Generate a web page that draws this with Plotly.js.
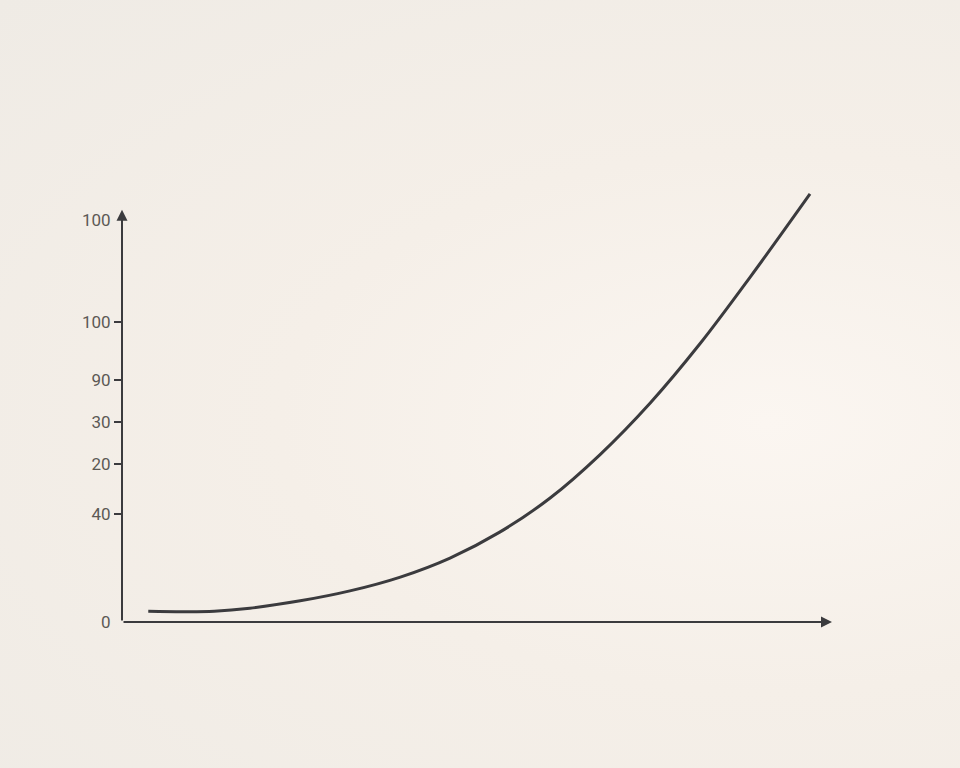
<!DOCTYPE html>
<html>
<head>
<meta charset="utf-8">
<script src="https://cdn.plot.ly/plotly-3.0.1.min.js"></script>
<style>
  html, body { margin: 0; padding: 0; }
  body {
    width: 960px; height: 768px;
    background: radial-gradient(ellipse at 80% 55%, #fbf6f1 0%, #f5efe8 45%, #efebe5 100%);
  }
  #chart { width: 960px; height: 768px; }
</style>
</head>
<body>
<div id="chart"></div>
<script>
// curve points
const xVals = [3.7, 8.5, 13.0, 18.0, 25.1, 32.1, 39.2, 46.2, 53.2, 60.3, 67.3, 74.4, 81.4, 88.5, 96.9];
const yVals = [2.5, 2.4, 2.5, 3.2, 4.9, 7.2, 10.4, 14.8, 20.8, 28.7, 38.7, 50.7, 64.4, 79.9, 99.1];

// tick labels as printed (with their marks)
const tickVals = [69.4, 56.0, 46.3, 36.6, 25.0];
const tickText = ['100', '90', '30', '20', '40'];
// labels with no tick mark
const endVals = [93.1, 0];
const endText = ['100', '0'];

const ink = '#3b3b3e';
const labelFont = { family: 'Roboto, DejaVu Sans, sans-serif', size: 17, color: '#5c5955' };

const curve = {
    type: 'scatter',
    mode: 'lines',
    x: xVals,
    y: yVals,
    line: { color: ink, width: 3, shape: 'spline', smoothing: 1 },
    hoverinfo: 'skip',
    showlegend: false
};

const layout = {
    width: 960,
    height: 768,
    margin: { l: 122, r: 128, t: 190, b: 146 },
    paper_bgcolor: 'rgba(0,0,0,0)',
    plot_bgcolor: 'rgba(0,0,0,0)',
    showlegend: false,
    xaxis: {
        range: [0, 100],
        showgrid: false, zeroline: false, showline: false,
        showticklabels: false, ticks: '', fixedrange: true
    },
    yaxis: {
        range: [0, 100],
        showgrid: false, zeroline: false, showline: false,
        tickmode: 'array', tickvals: tickVals, ticktext: tickText,
        ticks: 'outside', ticklen: 7, tickwidth: 2, tickcolor: ink,
        tickfont: labelFont, fixedrange: true
    },
    yaxis2: {
        overlaying: 'y', side: 'left',
        range: [0, 100],
        showgrid: false, zeroline: false, showline: false,
        tickmode: 'array', tickvals: endVals, ticktext: endText,
        ticks: 'outside', ticklen: 7, tickwidth: 2, tickcolor: 'rgba(0,0,0,0)',
        tickfont: labelFont, fixedrange: true
    },
    annotations: [
        // y axis with arrow
        { x: 0, y: 95.4, ax: 0, ay: 0, xref: 'x', yref: 'y', axref: 'x', ayref: 'y',
          text: '', showarrow: true, arrowhead: 2, arrowsize: 1.1, arrowwidth: 2, arrowcolor: ink },
        // x axis with arrow
        { x: 100, y: 0, ax: 0, ay: 0, xref: 'x', yref: 'y', axref: 'x', ayref: 'y',
          text: '', showarrow: true, arrowhead: 2, arrowsize: 1.1, arrowwidth: 2, arrowcolor: ink }
    ]
};

const dummy = { type: 'scatter', mode: 'markers', x: [], y: [], yaxis: 'y2', hoverinfo: 'skip', showlegend: false };

Plotly.newPlot('chart', [curve, dummy], layout, { displayModeBar: false, staticPlot: true });
</script>
</body>
</html>
